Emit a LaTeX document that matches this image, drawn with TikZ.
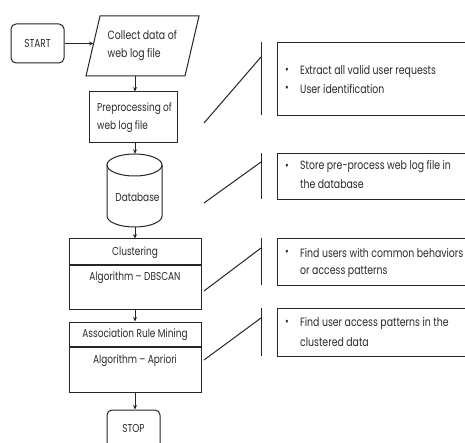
\documentclass[tikz,border=0pt]{standalone}
\usepackage{fontspec}
\setmainfont[FakeStretch=0.78]{Poppins}
\usetikzlibrary{arrows.meta,calc}
\definecolor{ink}{HTML}{262626}
\definecolor{txt}{HTML}{2a2a2a}
\begin{document}
\begin{tikzpicture}[x=1pt,y=-1pt,
  every node/.style={font=\fontsize{11.5}{18}\selectfont, text=txt, inner sep=0pt},
  notetext/.style={font=\fontsize{12}{18}\selectfont, anchor=west},
  line/.style={draw=ink, line width=1pt},
  arr/.style={line, -{Stealth[length=4.5pt,width=4pt]}},
  termbox/.style={line, rounded corners=5pt, minimum width=53pt, minimum height=39pt},
  procbox/.style={line, minimum width=88pt, minimum height=51pt},
  algbox/.style={line, minimum width=132pt, minimum height=70pt},
  notebox/.style={line, anchor=north west, minimum width=220pt},
  bul/.style={anchor=west}
]
\useasboundingbox (0,0) rectangle (465,443);
\fill[white] (0,0) rectangle (465,443);

% START
\node[termbox] (start) at (37.5,43.5) {START};
% Collect (parallelogram)
\node[minimum width=113pt, minimum height=60pt] (collect) at (142.5,46) {};
\draw[line] (100,16) -- (199,16) -- (185,76) -- (86,76) -- cycle;
\coordinate (collectin) at (93.5,43.5);
\coordinate (collectout) at (135,76);
\node[align=left, anchor=west, font=\fontsize{12}{18}\selectfont] (collecttxt) at (107.5,46) {Collect data of\\web log file};
% Preprocessing
\node[procbox] (prep) at (133,117.5) {};
\node[align=left, anchor=west] (preptxt) at (97,117.5) {Preprocessing of\\web log file};
% Database cylinder
\node[minimum width=55pt, minimum height=73pt] (db) at (134.5,190.5) {};
\draw[line] (134.5,165) ellipse [x radius=27.5pt, y radius=11pt];
\draw[line] (107,165) -- (107,216) arc[start angle=180, end angle=360, x radius=27.5pt, y radius=11pt] -- (162,165);
\node (dbtxt) at (137.5,197) {Database};
% Clustering
\node[algbox] (clust) at (135,274) {};
\draw[line, line width=1.8pt] (69,265) -- (201,265);
\node (clusttxt) at (135,253) {Clustering};
\node (clustalg) at (135,278) {Algorithm \textendash{} DBSCAN};
% Association
\node[algbox] (assoc) at (135,357) {};
\draw[line, line width=1.8pt] (69,347) -- (201,347);
\node (assoctxt) at (135,335) {Association Rule Mining};
\node (assocalg) at (135,361) {Algorithm \textendash{} Apriori};
% STOP
\node[termbox, minimum height=42pt] (stop) at (133.5,431) {};
\node (stoptxt) at (133.5,428) {STOP};

% flow arrows
\draw[arr] (start.east) -- (collectin);
\draw[arr] (collectout) -- (prep.north -| collectout);
\draw[arr] (prep.south -| clust) -- (db.north -| clust);
\draw[arr] (db.south -| clust) -- (clust.north);
\draw[arr] (clust.south) -- (assoc.north);
\draw[arr] (assoc.south) -- (stop.north -| clust);

% notes
\node[notebox, minimum height=73pt] (n1) at (277,42) {};
\node[bul] (n1a) at (285,71) {•};
\node[notetext] (n1b) at (300,71) {Extract all valid user requests};
\node[bul] (n1c) at (285,89) {•};
\node[notetext] (n1d) at (300,89) {User identification};

\node[notebox, minimum height=46pt] (n2) at (277,153) {};
\node[bul] (n2a) at (285,167) {•};
\node[notetext] (n2b) at (300,167) {Store pre-process web log file in};
\node[notetext] (n2c) at (300,184) {the database};

\node[notebox, minimum height=47pt] (n3) at (277,238) {};
\node[bul] (n3a) at (285,253) {•};
\node[notetext] (n3b) at (300,253) {Find users with common behaviors};
\node[notetext] (n3c) at (300,272) {or access patterns};

\node[notebox, minimum height=48pt] (n4) at (277,308) {};
\node[bul] (n4a) at (285,323) {•};
\node[notetext] (n4b) at (300,323) {Find user access patterns in the};
\node[notetext] (n4c) at (300,342) {clustered data};

% brackets
\coordinate (b1t) at (261,42);  \coordinate (b1b) at (261,115);
\coordinate (b2t) at (261,153); \coordinate (b2b) at (261,199);
\coordinate (b3t) at (261,238); \coordinate (b3b) at (261,285);
\coordinate (b4t) at (261,308); \coordinate (b4b) at (261,356);
\draw[line] (b1t) -- (b1b);
\draw[line] (b2t) -- (b2b);
\draw[line] (b3t) -- (b3b);
\draw[line] (b4t) -- (b4b);
\coordinate (d1) at (204,123); \coordinate (e1) at (261,57);
\coordinate (d2) at (204,203); \coordinate (e2) at (261,162);
\coordinate (d3) at (204,291); \coordinate (e3) at (261,248);
\coordinate (d4) at (204,360); \coordinate (e4) at (261,318);
\draw[line] (d1) -- (e1);
\draw[line] (d2) -- (e2);
\draw[line] (d3) -- (e3);
\draw[line] (d4) -- (e4);
\end{tikzpicture}
\end{document}
